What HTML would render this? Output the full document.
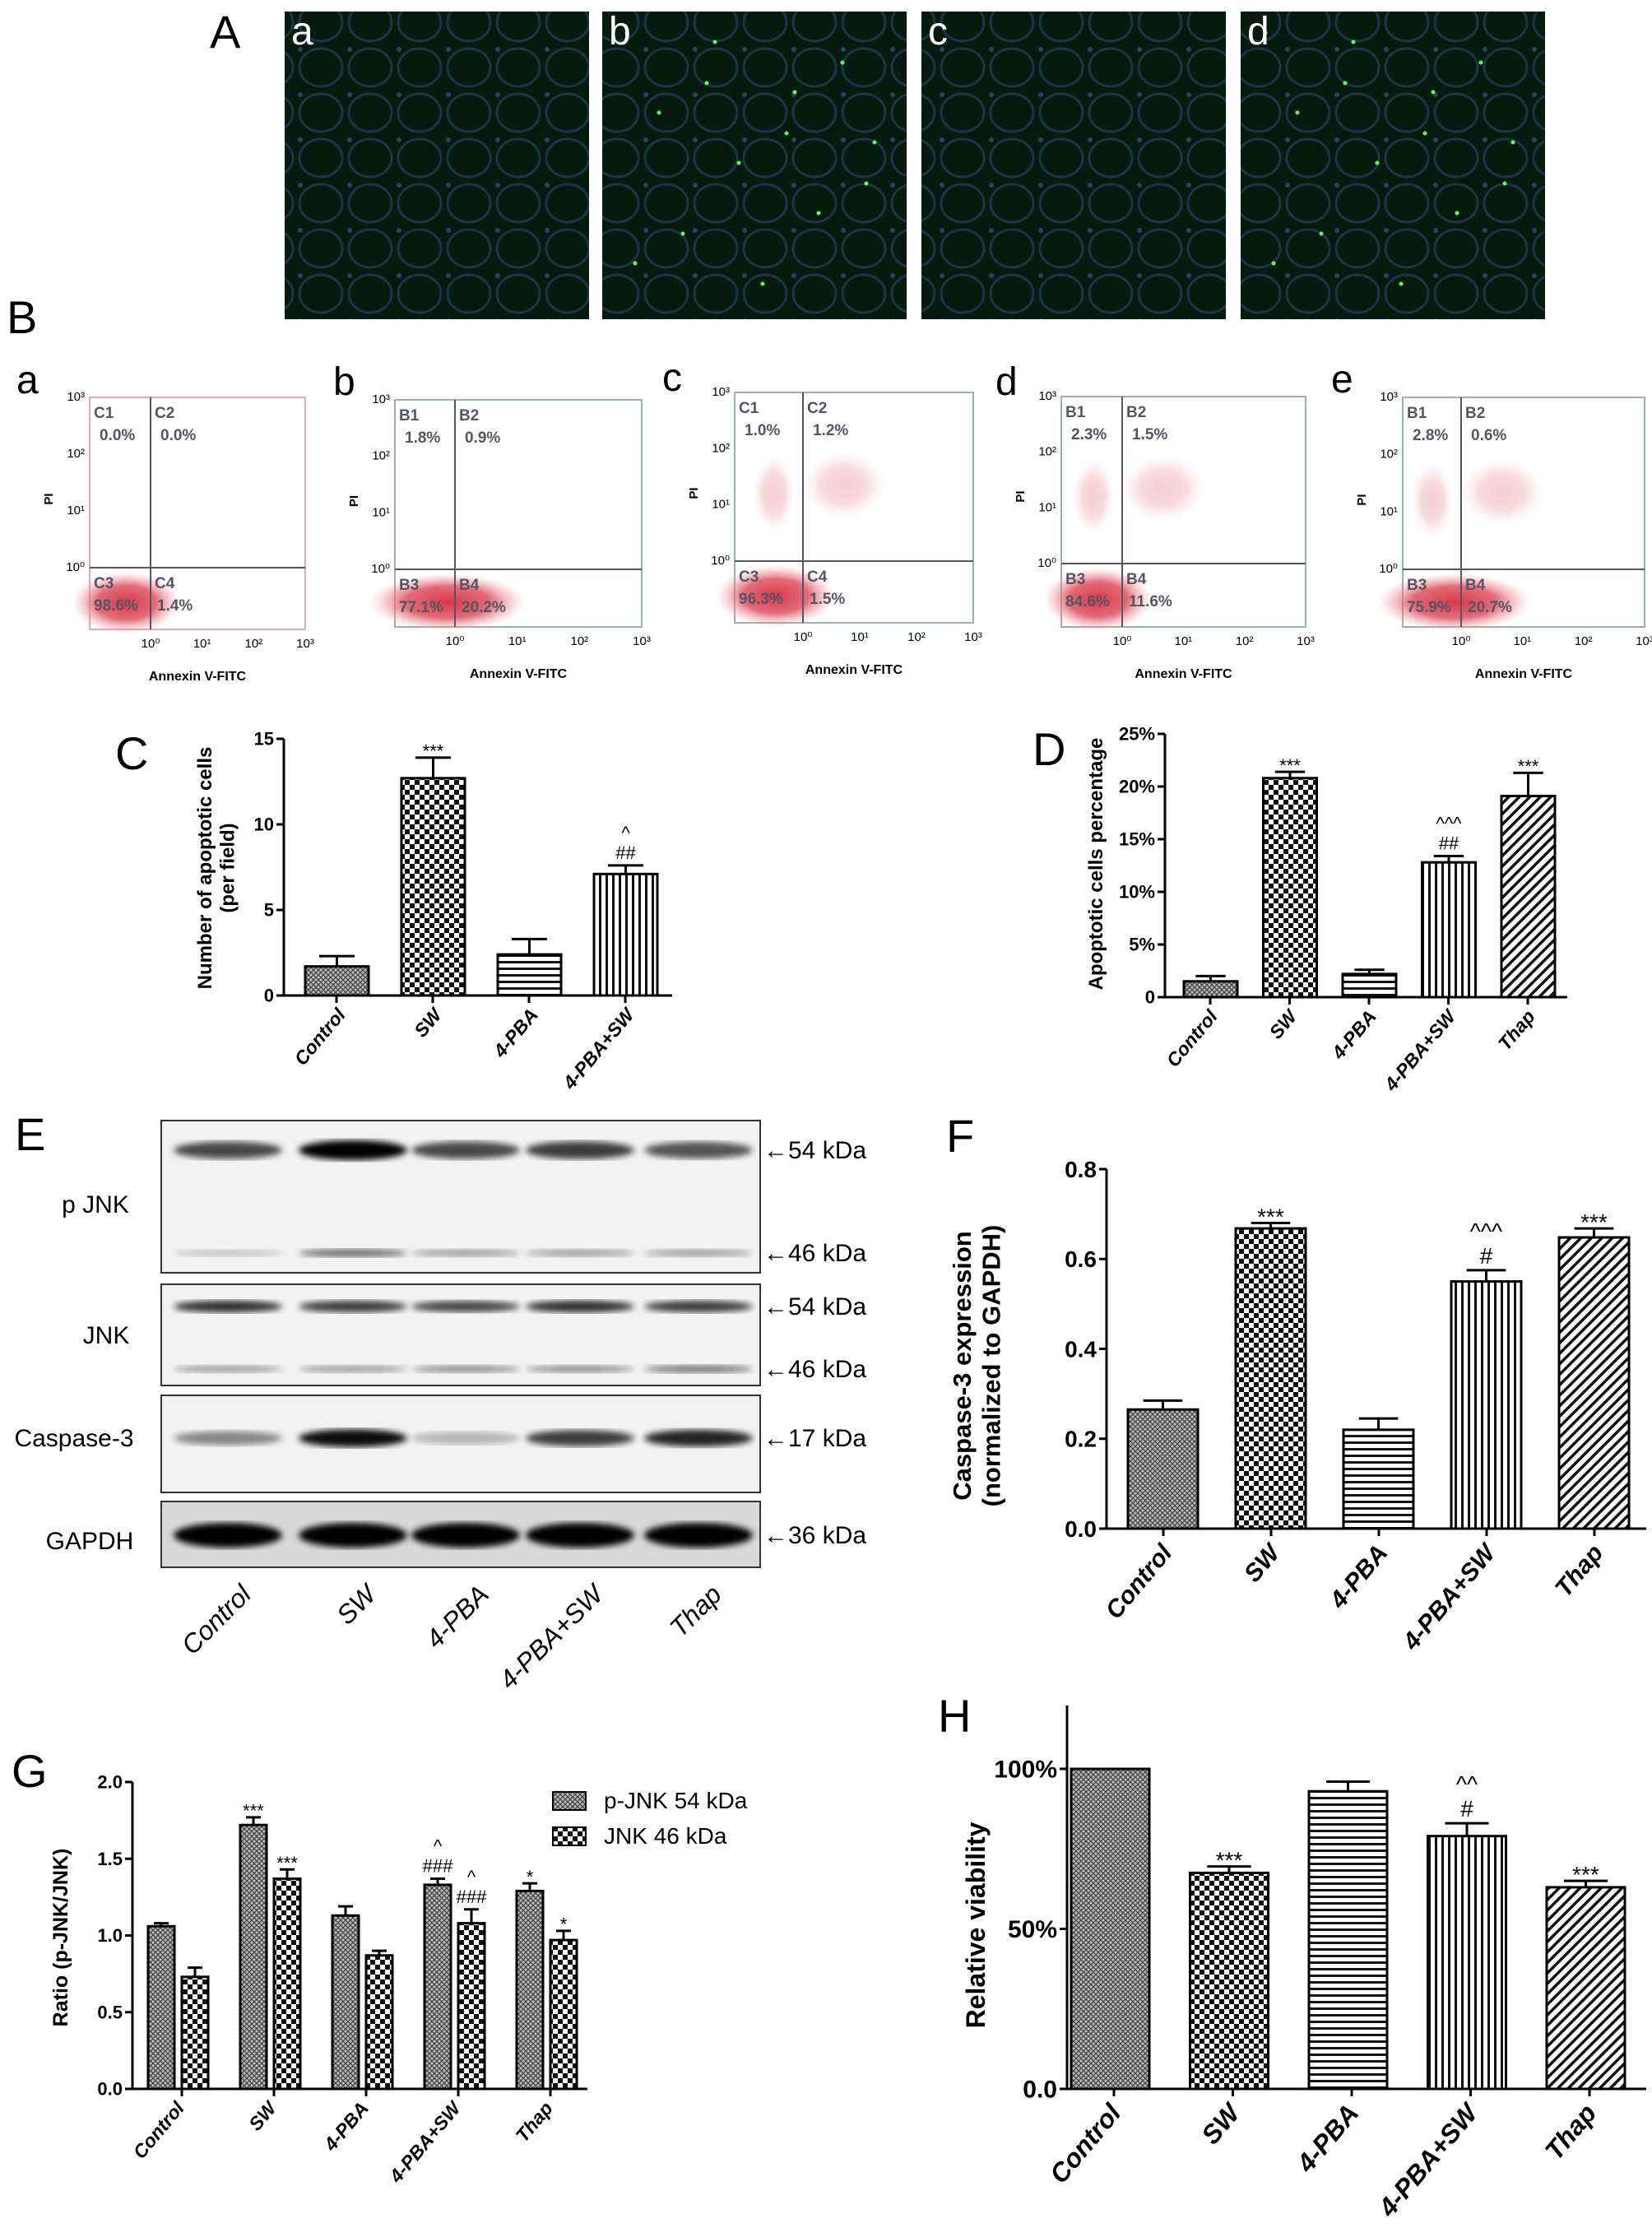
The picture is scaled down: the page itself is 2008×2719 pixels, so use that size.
<!DOCTYPE html>
<html><head><meta charset="utf-8"><style>
body{margin:0;background:#fff}
svg{display:block}
text{font-family:"Liberation Sans",Arial,sans-serif}
</style></head><body>
<svg id="fig" xmlns="http://www.w3.org/2000/svg" width="2008" height="2719" viewBox="0 0 2008 2719">
<defs>
<pattern id="pCross" width="6" height="6" patternUnits="userSpaceOnUse"><rect width="6" height="6" fill="#bbb"/><path d="M0 0L6 6M6 0L0 6" stroke="#444" stroke-width="1.3"/></pattern>
<pattern id="pCheck" width="12" height="12" patternUnits="userSpaceOnUse"><rect width="12" height="12" fill="#fff"/><rect width="6" height="6" fill="#111"/><rect x="6" y="6" width="6" height="6" fill="#111"/></pattern>
<pattern id="pH" width="8" height="8" patternUnits="userSpaceOnUse"><rect width="8" height="8" fill="#fff"/><rect y="0" width="8" height="3" fill="#111"/></pattern>
<pattern id="pV" width="8" height="8" patternUnits="userSpaceOnUse"><rect width="8" height="8" fill="#fff"/><rect x="0" width="3" height="8" fill="#111"/></pattern>
<pattern id="pD" width="9" height="9" patternUnits="userSpaceOnUse" patternTransform="rotate(45)"><rect width="9" height="9" fill="#fff"/><rect width="3.5" height="9" fill="#111"/></pattern>
<pattern id="pCells" width="60" height="55" patternUnits="userSpaceOnUse"><rect width="60" height="55" fill="#071a0e"/><ellipse cx="30" cy="27" rx="26" ry="23" fill="none" stroke="#2a4a78" stroke-width="3" opacity="0.55"/><circle cx="5" cy="5" r="3" fill="#3a5fa0" opacity="0.6"/></pattern>
<radialGradient id="gRed"><stop offset="0" stop-color="#d83848"/><stop offset="0.55" stop-color="#e05a68" stop-opacity="0.9"/><stop offset="1" stop-color="#f0a0a8" stop-opacity="0"/></radialGradient>
<filter id="blur"><feGaussianBlur stdDeviation="4"/></filter>
</defs>
<g id="root"></g>
</svg>
<script>
// ---------- DATA ----------
const catsC=["Control","SW","4-PBA","4-PBA+SW"];
const valsC=[1.7,12.7,2.4,7.1];
const errC=[2.3,13.9,3.3,7.6];
const annC=["","***","","^\n##"];
const ticksC=[0,5,10,15];
const tickLabC=["0","5","10","15"];

const cats5=["Control","SW","4-PBA","4-PBA+SW","Thap"];
const valsD=[1.5,20.8,2.2,12.8,19.1];
const errD=[2.0,21.4,2.6,13.4,21.3];
const annD=["","***","","^^^\n##","***"];
const ticksD=[0,5,10,15,20,25];
const tickLabD=["0","5%","10%","15%","20%","25%"];

const valsF=[0.265,0.668,0.22,0.55,0.648];
const errF=[0.285,0.68,0.245,0.575,0.668];
const annF=["","***","","^^^\n#","***"];
const ticksF=[0,0.2,0.4,0.6,0.8];
const tickLabF=["0.0","0.2","0.4","0.6","0.8"];

const valsGp=[1.06,1.72,1.13,1.33,1.29];
const errGp=[1.08,1.77,1.19,1.37,1.34];
const annGp=["","***","","^\n###","*"];
const valsGj=[0.73,1.37,0.87,1.08,0.97];
const errGj=[0.79,1.43,0.90,1.17,1.03];
const annGj=["","***","","^\n###","*"];
const ticksG=[0,0.5,1.0,1.5,2.0];
const tickLabG=["0.0","0.5","1.0","1.5","2.0"];

const valsH=[100,67.5,93,79,63];
const errH=[100,69.5,96,83,65];
const annH=["","***","","^^\n#","***"];
const ticksH=[0,50,100];
const tickLabH=["0.0","50%","100%"];

const fills5=["url(#pCross)","url(#pCheck)","url(#pH)","url(#pV)","url(#pD)"];

const flowLabels=[["C1","C2","C3","C4"],["B1","B2","B3","B4"],["C1","C2","C3","C4"],["B1","B2","B3","B4"],["B1","B2","B3","B4"]];
const flowPct=[["0.0%","0.0%","98.6%","1.4%"],["1.8%","0.9%","77.1%","20.2%"],["1.0%","1.2%","96.3%","1.5%"],["2.3%","1.5%","84.6%","11.6%"],["2.8%","0.6%","75.9%","20.7%"]];

// ---------- helpers ----------
const NS="http://www.w3.org/2000/svg";
const root=document.getElementById('root');
function el(tag,attrs,parent,txt){const e=document.createElementNS(NS,tag);for(const k in attrs)e.setAttribute(k,attrs[k]);if(txt!==undefined)e.textContent=txt;(parent||root).appendChild(e);return e;}
function grp(name){const g=el('g',{});return g;}

function letter(t,x,y,size){const e=el('text',{x:x,y:y,'font-size':size||56,fill:'#000'},root,t);

}

// ---------- Panel A ----------
letter('A',255,58,56);
const aX=[346,732,1120,1508];const aL=['a','b','c','d'];
aX.forEach((x,i)=>{const g=grp('micrograph-'+aL[i]);
el('rect',{x:x,y:14,width:370,height:374,fill:'url(#pCells)'},g);
if(i==1||i==3){for(let k=0;k<14;k++){el('circle',{cx:x+30+((k*97)%320),cy:40+((k*61)%330),r:2.5,fill:'#5f5'},g);}}
el('text',{x:x+8,y:54,'font-size':48,fill:'#fff'},g,aL[i]);});

// ---------- Panel B ----------
letter('B',8,405,56);
const fl=[{l:'a',lx:20,ly:478,x0:109,x1:371,y0:483,y1:765,dx:183,dy:690,bc:'#e7a5b8'},
{l:'b',lx:405,ly:480,x0:480,x1:780,y0:486,y1:762,dx:553,dy:692,bc:'#9bb0a8'},
{l:'c',lx:805,ly:475,x0:893,x1:1183,y0:477,y1:757,dx:976,dy:682,bc:'#9bb0a8'},
{l:'d',lx:1210,ly:480,x0:1290,x1:1587,y0:482,y1:762,dx:1364,dy:685,bc:'#9bb0a8'},
{l:'e',lx:1618,ly:477,x0:1705,x1:1999,y0:483,y1:762,dx:1776,dy:692,bc:'#9bb0a8'}];
fl.forEach((p,i)=>{const g=grp('flow-plot-'+p.l);
el('text',{x:p.lx,y:p.ly,'font-size':48},g,p.l);
el('rect',{x:p.x0,y:p.y0,width:p.x1-p.x0,height:p.y1-p.y0,fill:'#fff',stroke:p.bc,'stroke-width':2},g);
el('ellipse',{cx:p.x0+(p.dx-p.x0)*0.6+(i==1||i==4?20:0),cy:(p.dy+p.y1)/2+5,rx:(p.dx-p.x0)*0.75+(i==1||i==4?40:10),ry:(p.y1-p.dy)*0.5,fill:'url(#gRed)'},g);
if(i>=2){el('ellipse',{cx:p.dx+50,cy:p.y0+(p.dy-p.y0)*0.55,rx:50,ry:40,fill:'url(#gRed)',opacity:0.25},g);
el('ellipse',{cx:p.dx-35,cy:p.y0+(p.dy-p.y0)*0.6,rx:25,ry:45,fill:'url(#gRed)',opacity:0.25},g);}
el('line',{x1:p.dx,y1:p.y0,x2:p.dx,y2:p.y1,stroke:'#556',"stroke-width":2},g);
el('line',{x1:p.x0,y1:p.dy,x2:p.x1,y2:p.dy,stroke:'#556',"stroke-width":2},g);
const L=flowLabels[i],P=flowPct[i];
el('text',{x:p.x0+5,y:p.y0+25,'font-size':19,'font-weight':'bold',fill:'#556'},g,L[0]);
el('text',{x:p.dx+5,y:p.y0+25,'font-size':19,'font-weight':'bold',fill:'#556'},g,L[1]);
el('text',{x:p.x0+12,y:p.y0+52,'font-size':19,'font-weight':'bold',fill:'#556'},g,P[0]);
el('text',{x:p.dx+12,y:p.y0+52,'font-size':19,'font-weight':'bold',fill:'#556'},g,P[1]);
el('text',{x:p.x0+5,y:p.dy+25,'font-size':19,'font-weight':'bold',fill:'#556'},g,L[2]);
el('text',{x:p.dx+5,y:p.dy+25,'font-size':19,'font-weight':'bold',fill:'#556'},g,L[3]);
el('text',{x:p.x0+5,y:p.dy+52,'font-size':19,'font-weight':'bold',fill:'#556'},g,P[2]);
el('text',{x:p.dx+8,y:p.dy+52,'font-size':19,'font-weight':'bold',fill:'#556'},g,P[3]);
for(let k=0;k<4;k++){const yy=p.dy-(p.dy-p.y0)*k/3;
el('text',{x:p.x0-6,y:yy+4,'font-size':15,'text-anchor':'end'},g,'10'+['⁰','¹','²','³'][k]);
const xx=p.dx+(p.x1-p.dx)*k/3;
el('text',{x:xx,y:p.y1+22,'font-size':15,'text-anchor':'middle'},g,'10'+['⁰','¹','²','³'][k]);}
el('text',{x:p.x0-45,y:(p.y0+p.dy)/2+20,'font-size':15,'font-weight':'bold',transform:`rotate(-90 ${p.x0-45} ${(p.y0+p.dy)/2+20})`,'text-anchor':'middle'},g,'PI');
el('text',{x:(p.x0+p.x1)/2,y:p.y1+62,'font-size':16,'font-weight':'bold','text-anchor':'middle'},g,'Annexin V-FITC');
});

// ---------- bar chart helper ----------
function barChart(o){
const g=grp(o.name);
const ys=v=>o.y0-(v-o.min)/(o.max-o.min)*(o.y0-o.yTop);
const ya=el('line',{x1:o.ax,y1:o.axTop||o.yTop,x2:o.ax,y2:o.y0,stroke:'#000','stroke-width':3},g);

const xa=el('line',{x1:o.ax,y1:o.y0,x2:o.axEnd,y2:o.y0,stroke:'#000','stroke-width':3},g);

o.ticks.forEach((t,i)=>{const y=ys(t);
el('line',{x1:o.ax-9,y1:y,x2:o.ax,y2:y,stroke:'#000','stroke-width':3},g);
const tl=el('text',{x:o.ax-12,y:y+o.tfs*0.35,'font-size':o.tfs,'font-weight':'bold','text-anchor':'end'},g,o.tickLab[i]);
});
o.series.forEach((s,si)=>{
s.vals.forEach((v,i)=>{const x=o.start+i*o.pitch+(s.off||0);const w=o.bw;
const r=el('rect',{x:x,y:ys(v),width:w,height:o.y0-ys(v),fill:s.fills[i],stroke:'#000','stroke-width':3},g);


const e=s.err[i];if(e>v){const cx=x+w/2;
el('line',{x1:cx,y1:ys(v),x2:cx,y2:ys(e),stroke:'#000','stroke-width':3},g);
el('line',{x1:cx-w*0.28,y1:ys(e),x2:cx+w*0.28,y2:ys(e),stroke:'#000','stroke-width':3},g);}
const lines=s.ann[i]?s.ann[i].split('\n'):[];
lines.reverse().forEach((t,k)=>{el('text',{x:x+w/2,y:ys(e)-8-(o.afs+2)*k+(t.indexOf('*')>=0?o.afs*0.35:0),'font-size':o.afs,'text-anchor':'middle'},g,t);});
});});
o.cats.forEach((c,i)=>{const cx=o.start+i*o.pitch+o.catOff;const y=o.y0+o.cdy;
const t=el('text',{x:cx,y:y,'font-size':o.cfs,'font-weight':'bold','font-style':'italic','text-anchor':'end',transform:`rotate(-50 ${cx} ${y})`},g,c);

el('line',{x1:o.start+i*o.pitch+o.catOff-o.cdx,y1:o.y0,x2:o.start+i*o.pitch+o.catOff-o.cdx,y2:o.y0+9,stroke:'#000','stroke-width':3},g);});
o.title.forEach((t,k)=>{const x=o.tx+k*o.tfs2*1.15;
const tt=el('text',{x:x,y:o.ty,'font-size':o.tfs2,'font-weight':'bold','text-anchor':'middle',transform:`rotate(-90 ${x} ${o.ty})`},g,t);
});
return g;}

// ---------- Panel C ----------
letter('C',140,935,56);
barChart({name:'chart-c',cats:catsC,ax:345,y0:1210,yTop:898,min:0,max:15,axEnd:817,ticks:ticksC,tickLab:tickLabC,tfs:22,
start:371,pitch:117,bw:77,afs:22,catOff:50,cdx:12,cdy:24,cfs:23,
series:[{vals:valsC,err:errC,ann:annC,fills:fills5}],title:['Number of apoptotic cells','(per field)'],tx:257,ty:1055,tfs2:24});

// ---------- Panel D ----------
letter('D',1255,930,56);
barChart({name:'chart-d',cats:cats5,ax:1416,y0:1212,yTop:892,min:0,max:25,axEnd:1905,ticks:ticksD,tickLab:tickLabD,tfs:22,
start:1439,pitch:96.5,bw:65,afs:22,catOff:42,cdx:10,cdy:24,cfs:23,
series:[{vals:valsD,err:errD,ann:annD,fills:fills5}],title:['Apoptotic cells percentage'],tx:1340,ty:1050,tfs2:24});

// ---------- Panel E (western blot) ----------
letter('E',18,1398,56);
(function(){const g=grp('western-blot');
const boxes=[[1362,1547],[1561,1684],[1696,1814],[1825,1905]];
boxes.forEach(b=>el('rect',{x:196,y:b[0],width:728,height:b[1]-b[0],fill:'#f2f2f2',stroke:'#333','stroke-width':2},g));
el('rect',{x:196,y:1825,width:728,height:80,fill:'#d8d8d8',stroke:'#333','stroke-width':2},g);
const lanes=[277,429,566,705,849];
const bands=[[1398,[0.7,1,0.7,0.75,0.65],24],[1523,[0.2,0.55,0.35,0.35,0.35],12],[1588,[0.8,0.75,0.7,0.8,0.75],16],[1664,[0.35,0.35,0.4,0.4,0.5],12],[1748,[0.45,0.95,0.25,0.75,0.85],22],[1866,[1,1,1,1,1],30]];
bands.forEach(b=>lanes.forEach((cx,i)=>{el('ellipse',{cx:cx,cy:b[0],rx:66,ry:b[2]/2*(0.6+0.4*b[1][i]),fill:'#000',opacity:b[1][i],filter:'url(#blur)'},g);}));
[['p JNK',116,1464],['JNK',129,1623],['Caspase-3',90,1748],['GAPDH',109,1873]].forEach(t=>el('text',{x:t[1],y:t[2]+10,'font-size':30,'text-anchor':'middle'},g,t[0]));
[['54 kDa',1398],['46 kDa',1523],['54 kDa',1588],['46 kDa',1664],['17 kDa',1748],['36 kDa',1866]].forEach(t=>el('text',{x:928,y:t[1]+10,'font-size':30},g,'←'+t[0]));
cats5.forEach((c,i)=>{const x=lanes[i]+30,y=1940;el('text',{x:x,y:y,'font-size':32,'font-style':'italic','text-anchor':'end',transform:`rotate(-45 ${x} ${y})`},g,c);});
})();

// ---------- Panel F ----------
letter('F',1150,1400,56);
barChart({name:'chart-f',cats:cats5,ax:1345,y0:1858,yTop:1421,min:0,max:0.8,axEnd:2001,ticks:ticksF,tickLab:tickLabF,tfs:28,
start:1371,pitch:131,bw:85,afs:28,catOff:55,cdx:12,cdy:30,cfs:30,
series:[{vals:valsF,err:errF,ann:annF,fills:fills5}],title:['Caspase-3 expression','(normalized to GAPDH)'],tx:1180,ty:1660,tfs2:31});

// ---------- Panel G ----------
letter('G',14,2172,56);
barChart({name:'chart-g',cats:cats5,ax:161,y0:2539,yTop:2166,min:0,max:2,axEnd:714,ticks:ticksG,tickLab:tickLabG,tfs:22,
start:180,pitch:112,bw:32,afs:22,catOff:45,cdx:4,cdy:24,cfs:23,
series:[{key:'p-jnk',vals:valsGp,err:errGp,ann:annGp,fills:Array(5).fill('url(#pCross)'),off:0},
{key:'jnk',vals:valsGj,err:errGj,ann:annGj,fills:Array(5).fill('url(#pCheck)'),off:41}],title:['Ratio  (p-JNK/JNK)'],tx:82,ty:2355,tfs2:25});
(function(){const g=grp('legend-g');
el('rect',{x:672,y:2178,width:40,height:22,fill:'url(#pCross)',stroke:'#000','stroke-width':2},g);
el('text',{x:734,y:2198,'font-size':28},g,'p-JNK 54 kDa');
el('rect',{x:672,y:2221,width:40,height:22,fill:'url(#pCheck)',stroke:'#000','stroke-width':2},g);
el('text',{x:734,y:2241,'font-size':28},g,'JNK 46 kDa');})();

// ---------- Panel H ----------
letter('H',1140,2105,56);
barChart({name:'chart-h',cats:cats5,ax:1297,axTop:2073,y0:2539,yTop:2150,min:0,max:100,axEnd:2001,ticks:ticksH,tickLab:tickLabH,tfs:30,
start:1302,pitch:144.5,bw:95,afs:28,catOff:62,cdx:10,cdy:30,cfs:32,
series:[{vals:valsH,err:errH,ann:annH,fills:fills5}],title:['Relative viability'],tx:1197,ty:2340,tfs2:32});
</script>
</body></html>
